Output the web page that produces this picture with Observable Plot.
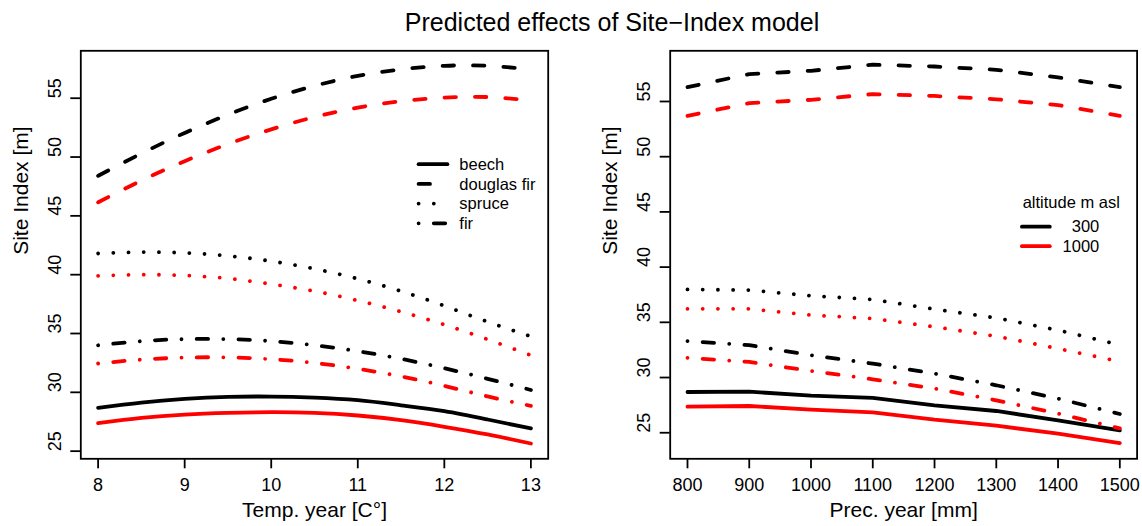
<!DOCTYPE html>
<html>
<head>
<meta charset="utf-8">
<script src="https://cdn.jsdelivr.net/npm/d3@7"></script>
<script src="https://cdn.jsdelivr.net/npm/@observablehq/plot@0.6"></script>
<style>
  body { margin: 0; background: #fff; font-family: "Liberation Sans", Arial, sans-serif; }
  #fig { position: relative; width: 1142px; height: 526px; overflow: hidden; }
  #title { position: relative; height: 40px; }
  #title span { position: absolute; left: 612px; top: 0; transform: translateX(-50%);
    white-space: nowrap; font-size: 25px; line-height: 44px; color: #000; }
  #row { display: flex; }
  #row svg { display: block; overflow: visible; }
</style>
</head>
<body>
<div id="fig">
  <div id="title"><span>Predicted effects of Site−Index model</span></div>
  <div id="row"></div>
</div>
<script>
// ---- data -------------------------------------------------------------
const species = ["beech", "douglas fir", "spruce", "fir"];
const altitudes = ["300", "1000"];

// mean annual temperature (°C)
const tempX = [8, 8.5, 9, 9.5, 10, 10.5, 11, 11.5, 12, 12.5, 13];
const tempBeech300    = [28.68, 29.13, 29.44, 29.61, 29.64, 29.55, 29.33, 28.90, 28.40, 27.69, 26.93];
const tempBeech1000   = [27.38, 27.83, 28.11, 28.25, 28.31, 28.25, 28.03, 27.63, 27.07, 26.42, 25.65];
const tempDouglas300  = [48.40, 50.30, 52.05, 53.60, 54.95, 56.05, 56.90, 57.45, 57.75, 57.75, 57.45];
const tempDouglas1000 = [46.15, 48.00, 49.65, 51.10, 52.35, 53.40, 54.20, 54.75, 55.05, 55.10, 54.80];
const tempSpruce300   = [41.80, 41.92, 41.85, 41.60, 41.15, 40.50, 39.65, 38.60, 37.35, 36.00, 34.75];
const tempSpruce1000  = [39.90, 40.00, 39.93, 39.68, 39.20, 38.60, 37.80, 36.85, 35.75, 34.50, 33.15];
const tempFir300      = [34.00, 34.35, 34.52, 34.52, 34.35, 34.00, 33.50, 32.85, 32.05, 31.15, 30.20];
const tempFir1000     = [32.45, 32.78, 32.95, 32.97, 32.82, 32.50, 32.00, 31.35, 30.55, 29.65, 28.85];

// annual precipitation (mm)
const precX = [800, 900, 1000, 1100, 1200, 1300, 1400, 1500];
const precBeech300    = [28.69, 28.72, 28.36, 28.15, 27.48, 26.97, 26.12, 25.21];
const precBeech1000   = [27.36, 27.42, 27.09, 26.85, 26.18, 25.64, 24.91, 24.07];
const precDouglas300  = [56.30, 57.48, 57.78, 58.33, 58.17, 57.87, 57.18, 56.30];
const precDouglas1000 = [53.70, 54.85, 55.15, 55.67, 55.50, 55.20, 54.67, 53.70];
const precSpruce300   = [37.98, 37.92, 37.40, 37.07, 36.19, 35.40, 34.29, 32.95];
const precSpruce1000  = [36.22, 36.22, 35.65, 35.34, 34.59, 33.74, 32.62, 31.45];
const precFir300      = [33.29, 32.93, 32.02, 31.26, 30.36, 29.30, 28.09, 26.70];
const precFir1000     = [31.78, 31.41, 30.60, 29.84, 29.00, 27.94, 26.73, 25.40];

const tempTicks = [8, 9, 10, 11, 12, 13];
const precTicks = [800, 900, 1000, 1100, 1200, 1300, 1400, 1500];
const siTicks = [25, 30, 35, 40, 45, 50, 55];

// ---- styling ----------------------------------------------------------
const LW = 3.8;                          // line width of the model curves
const colors = {"300": "#000000", "1000": "#ff0000"};
// dash patterns (round caps add LW/2 at each end of a dash)
const dashes = {
  "beech": null,
  "douglas fir": `${3 * LW},${5 * LW}`,
  "spruce": `0.01,${4 * LW}`,
  "fir": `0.01,${4 * LW},${3 * LW},${4 * LW}`
};
const FONT = '"Liberation Sans", Arial, sans-serif';

const tempSeries = {
  "beech": {"300": tempBeech300, "1000": tempBeech1000},
  "douglas fir": {"300": tempDouglas300, "1000": tempDouglas1000},
  "spruce": {"300": tempSpruce300, "1000": tempSpruce1000},
  "fir": {"300": tempFir300, "1000": tempFir1000}
};
const precSeries = {
  "beech": {"300": precBeech300, "1000": precBeech1000},
  "douglas fir": {"300": precDouglas300, "1000": precDouglas1000},
  "spruce": {"300": precSpruce300, "1000": precSpruce1000},
  "fir": {"300": precFir300, "1000": precFir1000}
};

function panel({xs, series, xDomain, yDomain, xTicks, xLabel, curve, marginLeft, marginRight}) {
  const marks = [];
  for (const sp of species) {
    for (const alt of altitudes) {
      const rows = xs.map((x, i) => ({x, y: series[sp][alt][i]}));
      marks.push(Plot.line(rows, {
        x: "x", y: "y", curve,
        stroke: colors[alt], strokeWidth: LW,
        strokeDasharray: dashes[sp], strokeLinecap: "round", strokeLinejoin: "round"
      }));
    }
  }
  marks.push(
    Plot.frame({stroke: "#000", strokeWidth: 1.8}),
    Plot.axisX({ticks: xTicks, tickSize: 10, tickPadding: 9.5, fontSize: 18,
      strokeWidth: 1.8, label: null, tickFormat: d => String(d)}),
    Plot.axisY({ticks: siTicks, tickSize: 10, strokeWidth: 1.8, label: null, tickFormat: () => ""}),
    Plot.text(siTicks, {y: d => d, text: d => String(d), frameAnchor: "left", dx: -26,
      rotate: -90, fontSize: 18, fill: "#000"}),
    Plot.text([xLabel], {text: d => d, frameAnchor: "bottom", dy: 58, fontSize: 21, fill: "#000"}),
    Plot.text(["Site Index [m]"], {text: d => d, frameAnchor: "left", dx: -60, rotate: -90,
      fontSize: 21, fill: "#000"})
  );
  return Plot.plot({
    width: 571, height: 486,
    marginTop: 10.3, marginBottom: 67.7, marginLeft, marginRight,
    style: {fontFamily: FONT, color: "#000", background: "transparent"},
    x: {domain: xDomain},
    y: {domain: yDomain},
    marks
  });
}

const left = panel({
  xs: tempX, series: tempSeries, xDomain: [7.8, 13.2], yDomain: [24.35, 59.03],
  xTicks: tempTicks, xLabel: "Temp. year [C°]", curve: "natural",
  marginLeft: 80.3, marginRight: 23.3
});
const right = panel({
  xs: precX, series: precSeries, xDomain: [772, 1528], yDomain: [22.64, 59.59],
  xTicks: precTicks, xLabel: "Prec. year [mm]", curve: "linear",
  marginLeft: 98.7, marginRight: 5.4
});

// species legend (line types) inside the temperature panel
{
  const g = d3.select(left).append("g").attr("font-family", FONT).attr("font-size", 16.5)
    .attr("text-anchor", "start").attr("fill", "#000");
  species.forEach((sp, i) => {
    const y = 124.2 + i * 19.7;
    g.append("line").attr("x1", 418.6).attr("x2", 447.4).attr("y1", y).attr("y2", y)
      .attr("stroke", "#000").attr("stroke-width", LW).attr("stroke-linecap", "round")
      .attr("stroke-dasharray", dashes[sp]);
    g.append("text").attr("x", 459.3).attr("y", y).attr("dy", "0.35em")
      .attr("text-anchor", "start").text(sp);
  });
}
// altitude legend (colours) inside the precipitation panel
{
  const g = d3.select(right).append("g").attr("font-family", FONT).attr("font-size", 16.5)
    .attr("fill", "#000");
  g.append("text").attr("x", 500.3).attr("y", 162.7).attr("dy", "0.35em")
    .attr("text-anchor", "middle").text("altitude m asl");
  altitudes.forEach((alt, i) => {
    const y = 186.7 + i * 19.5;
    g.append("line").attr("x1", 450.9).attr("x2", 478.8).attr("y1", y).attr("y2", y)
      .attr("stroke", colors[alt]).attr("stroke-width", LW).attr("stroke-linecap", "round");
    g.append("text").attr("x", 528.3).attr("y", y).attr("dy", "0.35em")
      .attr("text-anchor", "end").text(alt);
  });
}

document.getElementById("row").append(left, right);
</script>
</body>
</html>
